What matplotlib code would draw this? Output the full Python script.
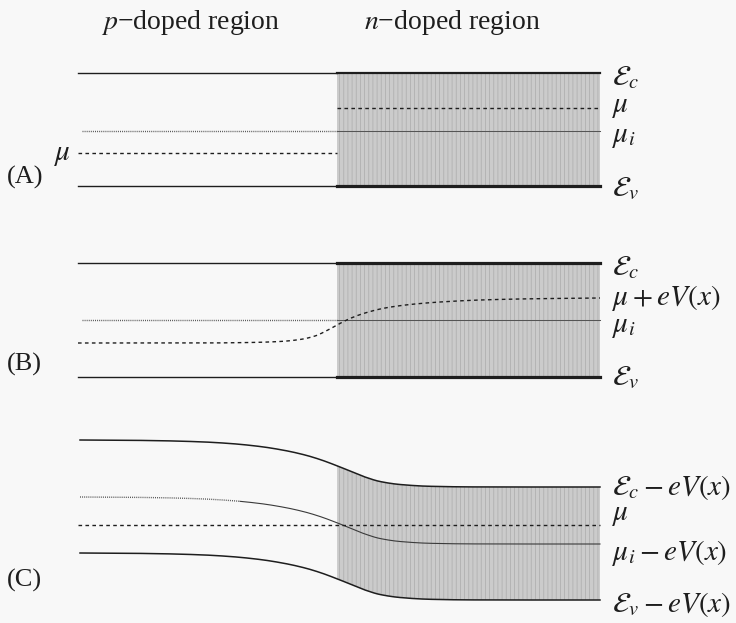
import numpy as np
import matplotlib
matplotlib.use("Agg")
import matplotlib.pyplot as plt

plt.rcParams['font.family'] = ['Liberation Serif', 'DejaVu Serif']
plt.rcParams['mathtext.fontset'] = 'stix'
plt.rcParams['hatch.linewidth'] = 0.6
plt.rcParams['hatch.color'] = '#b0b0b0'

# ---------------- data (energy levels, in image units) -------------
x_p_start = 78
x_junction = 337
x_n_end = 600

# Panel A: flat bands
A_Ec = 73
A_mu_n = 108
A_mui = 131
A_mu_p = 153
A_Ev = 186

# Panel B: flat bands, chemical potential bends
B_Ec = 263
B_mui = 320
B_Ev = 377
B_mu_x = [78, 200, 250, 280, 300, 315, 327, 337, 350, 365, 385, 410, 440, 480, 530, 600]
B_mu_y = [343, 343, 342.5, 341.5, 339.5, 336, 330.5, 325, 318.5, 313, 308, 304.5, 302, 300, 298.8, 298]

# Panel C: bands bend by -eV(x), chemical potential flat
C_bend_x = [80, 120, 160, 200, 230, 260, 285, 305, 320, 335, 350, 365, 380, 400, 430, 470, 520, 600]
C_bend = [0, 0.2, 0.7, 1.8, 3.5, 6.5, 10.5, 15, 19.5, 25, 31, 37, 41.5, 44.5, 46.3, 46.9, 47, 47]
C_Ec0 = 440
C_mui0 = 497
C_mu = 525
C_Ev0 = 553

header_labels = [r"$p$" + "\u2212doped region", r"$n$" + "\u2212doped region"]
panel_labels = ["(A)", "(B)", "(C)"]
A_labels = [r"$\mathcal{E}_c$", r"$\mu$", r"$\mu_i$", r"$\mathcal{E}_v$"]
B_labels = [r"$\mathcal{E}_c$", r"$\mu + eV(x)$", r"$\mu_i$", r"$\mathcal{E}_v$"]
C_labels = [r"$\mathcal{E}_c - eV(x)$", r"$\mu$", r"$\mu_i - eV(x)$", r"$\mathcal{E}_v - eV(x)$"]


def pchip(x, y, xs):
    x = np.asarray(x, float)
    y = np.asarray(y, float)
    h = np.diff(x)
    d = np.diff(y) / h
    m = np.zeros_like(y)
    m[0] = d[0]
    m[-1] = d[-1]
    for k in range(1, len(x) - 1):
        if d[k - 1] * d[k] <= 0:
            m[k] = 0.0
        else:
            w1 = 2 * h[k] + h[k - 1]
            w2 = h[k] + 2 * h[k - 1]
            m[k] = (w1 + w2) / (w1 / d[k - 1] + w2 / d[k])
    xs = np.asarray(xs, float)
    idx = np.clip(np.searchsorted(x, xs) - 1, 0, len(x) - 2)
    t = (xs - x[idx]) / h[idx]
    h00 = 2 * t**3 - 3 * t**2 + 1
    h10 = t**3 - 2 * t**2 + t
    h01 = -2 * t**3 + 3 * t**2
    h11 = t**3 - t**2
    return h00 * y[idx] + h10 * h[idx] * m[idx] + h01 * y[idx + 1] + h11 * h[idx] * m[idx + 1]


# ---------------- figure -------------
BG = '#f8f8f8'
INK = '#1e1e1e'
GRAY_LINE = '#555555'
SHADE = '#cbcbcb'

fig = plt.figure(figsize=(7.36, 6.23), dpi=100, facecolor=BG)
ax = fig.add_axes([0, 0, 1, 1])
ax.set_xlim(0, 736)
ax.set_ylim(623, 0)
ax.axis('off')
ax.set_facecolor(BG)

dash = (0, (2.6, 2.4))
dots = (0, (0.7, 0.8))
lw_band = 1.0
lw_thick = 2.3


def shade_rect(y_top, y_bot):
    ax.fill_between([x_junction, x_n_end], [y_top, y_top], [y_bot, y_bot],
                    facecolor=SHADE, hatch='||||', edgecolor='#b0b0b0', linewidth=0, zorder=1)

# ---- Panel A ----
shade_rect(A_Ec, A_Ev)
ax.plot([x_p_start, x_junction], [A_Ec, A_Ec], color=INK, lw=lw_band, zorder=3)
ax.plot([x_junction, x_n_end], [A_Ec, A_Ec], color=INK, lw=1.6, zorder=3)
ax.plot([x_p_start, x_junction], [A_Ev, A_Ev], color=INK, lw=lw_band, zorder=3)
ax.plot([x_junction, x_n_end], [A_Ev, A_Ev], color=INK, lw=lw_thick, zorder=3)
ax.plot([82, x_junction], [A_mui, A_mui], color=GRAY_LINE, lw=1.0, ls=dots, zorder=3)
ax.plot([x_junction, x_n_end], [A_mui, A_mui], color=GRAY_LINE, lw=0.75, zorder=3)
ax.plot([x_p_start, x_junction], [A_mu_p, A_mu_p], color=INK, lw=1.0, ls=dash, zorder=3)
ax.plot([x_junction, x_n_end], [A_mu_n, A_mu_n], color=INK, lw=1.0, ls=dash, zorder=3)

# ---- Panel B ----
shade_rect(B_Ec, B_Ev)
ax.plot([x_p_start, x_junction], [B_Ec, B_Ec], color=INK, lw=lw_band, zorder=3)
ax.plot([x_junction, x_n_end], [B_Ec, B_Ec], color=INK, lw=lw_thick, zorder=3)
ax.plot([x_p_start, x_junction], [B_Ev, B_Ev], color=INK, lw=lw_band, zorder=3)
ax.plot([x_junction, x_n_end], [B_Ev, B_Ev], color=INK, lw=lw_thick, zorder=3)
ax.plot([82, x_junction], [B_mui, B_mui], color=GRAY_LINE, lw=1.0, ls=dots, zorder=3)
ax.plot([x_junction, x_n_end], [B_mui, B_mui], color=GRAY_LINE, lw=0.75, zorder=3)
xs_B = np.linspace(B_mu_x[0], B_mu_x[-1], 600)
ax.plot(xs_B, pchip(B_mu_x, B_mu_y, xs_B), color=INK, lw=1.0, ls=dash, zorder=3)

# ---- Panel C ----
xs_C = np.linspace(C_bend_x[0], C_bend_x[-1], 800)
bend = pchip(C_bend_x, C_bend, xs_C)
Ec_C = C_Ec0 + bend
mui_C = C_mui0 + bend
Ev_C = C_Ev0 + bend
mask = xs_C >= x_junction
ax.fill_between(xs_C[mask], Ec_C[mask], Ev_C[mask], facecolor=SHADE, hatch='||||',
                edgecolor='#b0b0b0', linewidth=0, zorder=1)
ax.plot(xs_C, Ec_C, color=INK, lw=1.1, zorder=3)
ax.plot(xs_C, Ev_C, color=INK, lw=1.1, zorder=3)
pm = xs_C <= 240
ax.plot(xs_C[pm], mui_C[pm], color=GRAY_LINE, lw=1.0, ls=dots, zorder=3)
ax.plot(xs_C[~pm], mui_C[~pm], color='#3a3a3a', lw=0.8, zorder=3)
ax.plot([x_p_start, x_n_end], [C_mu, C_mu], color=INK, lw=1.0, ls=dash, zorder=3)

# ---- text ----
FS_H = 20
FS_P = 19
FS_R = 21
ax.text(190, 29, header_labels[0], fontsize=FS_H, ha='center', va='baseline', color=INK)
ax.text(452, 29, header_labels[1], fontsize=FS_H, ha='center', va='baseline', color=INK)

ax.text(7, 184, panel_labels[0], fontsize=FS_P, ha='left', va='baseline', color=INK)
ax.text(7, 371, panel_labels[1], fontsize=FS_P, ha='left', va='baseline', color=INK)
ax.text(7, 587, panel_labels[2], fontsize=FS_P, ha='left', va='baseline', color=INK)
ax.text(54, 160, r"$\mu$", fontsize=FS_R, ha='left', va='baseline', color=INK)

label_x = 612
for lab, yb in zip(A_labels, [85, 112, 142, 196]):
    ax.text(label_x, yb, lab, fontsize=FS_R, ha='left', va='baseline', color=INK)
for lab, yb in zip(B_labels, [275, 305, 332, 385]):
    ax.text(label_x, yb, lab, fontsize=FS_R, ha='left', va='baseline', color=INK)
for lab, yb in zip(C_labels, [495, 520, 560, 612]):
    ax.text(label_x, yb, lab, fontsize=FS_R, ha='left', va='baseline', color=INK)

fig.savefig("out.png", dpi=100, facecolor=BG)
